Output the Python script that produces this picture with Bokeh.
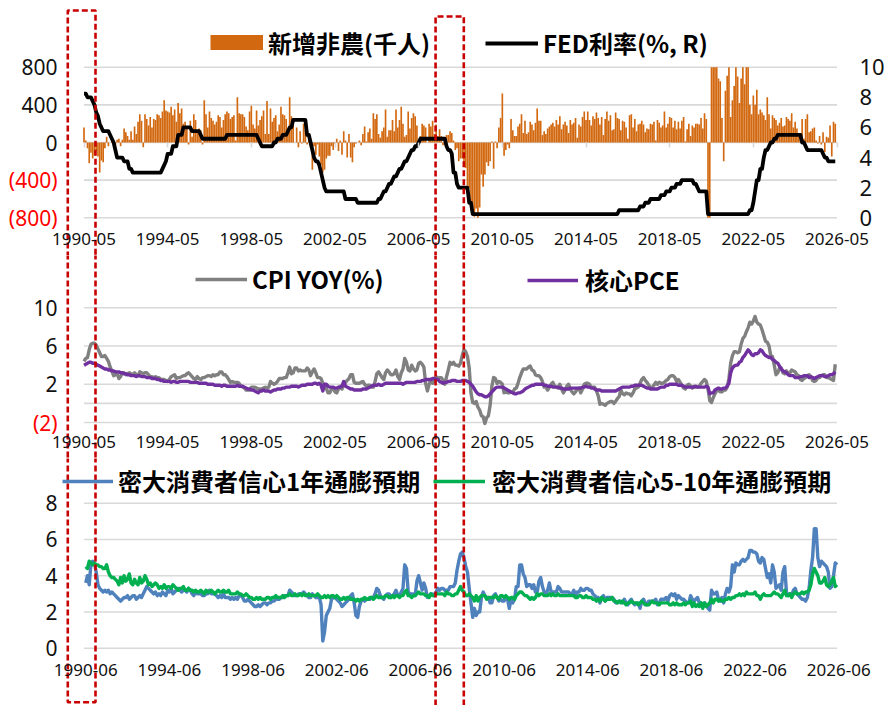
from bokeh.plotting import figure
from bokeh.models import Range1d, LinearAxis, FixedTicker, Legend, LegendItem
from bokeh.layouts import column
from bokeh.embed import file_html
from bokeh.resources import INLINE

# ---------------------------------------------------------------- data
# panels 1-2: monthly from 1990-05 ; panel 3: monthly from 1990-06
start_top = "1990-05"
start_bottom = "1990-06"

nfp = [  # 新增非農 (thousands), clipped at the chart's +/-800 bounds
    160, 20, -60, -220, -110, -170, -140, -90,
    -150, -320, -190, -210, -60, 60, -40, 0, 40, 20, -40, 30,
    40, -40, 30, 150, 110, 70, 30, 120, 30, 170, 90, 220,
    300, 230, -50, 300, 250, 180, 270, 160, 250, 240, 300, 290,
    260, 330, 450, 340, 330, 320, 380, 290, 350, 220, 420, 310,
    360, 200, 220, 150, -20, 230, 60, 300, 240, 110, 150, 130,
    -20, 450, 300, 160, 330, 260, 230, 190, 220, 290, 270, 160,
    240, 300, 330, 310, 250, 270, 290, 20, 480, 310, 300, 300,
    270, 170, 130, 330, 390, 190, 150, 340, 180, 240, 280, 340,
    90, 440, 90, 360, 220, 260, 290, 120, 190, 380, 300, 290,
    250, 110, 480, 280, 220, 0, 160, -50, 120, -10, 200, 130,
    -20, 60, -50, -290, -40, -130, -20, -150, -240, -320, -290, -170,
    -140, -140, -40, -80, -10, 40, -90, 20, -130, 120, 20, -160,
    90, -160, -210, -50, -10, 0, 20, -30, 90, 170, 10, 110,
    150, 40, 310, 250, 300, 90, 50, 120, 160, 350, 60, 130,
    130, 240, 120, 350, 160, 240, 380, 200, 60, 80, 330, 150,
    260, 310, 280, 180, 20, 70, 200, 180, 160, 0, 200, 170,
    230, 90, 190, 70, 140, 70, -30, -20, 80, 80, 120, 100,
    20, -80, -60, -200, -170, -170, -210, -270, -460, -480, -720, -700,
    -790, -700, -800, -690, -340, -470, -340, -210, -250, -200, 10, -280,
    10, -60, 160, 260, 520, -140, -80, -20, -60, 250, 130, 70,
    70, 170, 200, 300, 100, 230, 90, 110, 220, 190, 130, 210,
    360, 230, 230, 80, 120, 90, 150, 170, 190, 210, 170, 240,
    190, 280, 140, 190, 220, 180, 100, 240, 190, 210, 260, 50,
    190, 170, 270, 330, 240, 330, 240, 180, 280, 250, 320, 260,
    190, 270, 80, 250, 330, 230, 290, 130, 140, 320, 260, 250,
    130, 230, 220, 160, 40, 290, 300, 160, 250, 120, 190, 200,
    230, 190, 110, 150, 140, 200, 190, 220, 20, 240, 210, 160,
    180, 330, 160, 200, 270, 260, 160, 230, 140, 220, 150, 230,
    270, 10, 140, 200, 70, 180, 160, 200, 200, 190, 260, 150,
    310, 250, -800, -800, 800, 800, 800, 800, 680, 650, 260, -200,
    550, 710, 800, 270, 450, 600, 800, 700, 420, 680, 800, 620,
    800, 800, 400, 300, 500, 400, 560, 300, 350, 320, 290, 240,
    480, 300, 150, 290, 260, 240, 180, 210, 260, 170, 180, 270,
    250, 230, 310, 160, 220, 150, 100, 80, 250, 40, 250, 300,
    110, 120, 150, 160, 20, -10, 70, -20, 110, -100, 60, 50,
    180, -150, 220, 200,
]

fed = [  # FED 利率 (%, right axis)
    8.25, 8.25, 8.0, 8.0, 8.0, 7.75, 7.5, 7.0,
    6.75, 6.25, 6.0, 5.75, 5.75, 5.75, 5.75, 5.5, 5.25, 5.0, 4.5, 4.0,
    4.0, 4.0, 4.0, 3.75, 3.75, 3.75, 3.25, 3.25, 3.0, 3.0, 3.0, 3.0,
    3.0, 3.0, 3.0, 3.0, 3.0, 3.0, 3.0, 3.0, 3.0, 3.0, 3.0, 3.0,
    3.0, 3.25, 3.5, 3.75, 4.25, 4.25, 4.25, 4.75, 4.75, 4.75, 5.5, 5.5,
    5.5, 6.0, 6.0, 6.0, 6.0, 6.0, 5.75, 5.75, 5.75, 5.75, 5.75, 5.5,
    5.25, 5.25, 5.25, 5.25, 5.25, 5.25, 5.25, 5.25, 5.25, 5.25, 5.25, 5.25,
    5.25, 5.25, 5.5, 5.5, 5.5, 5.5, 5.5, 5.5, 5.5, 5.5, 5.5, 5.5,
    5.5, 5.5, 5.5, 5.5, 5.5, 5.5, 5.5, 5.5, 5.25, 5.0, 4.75, 4.75,
    4.75, 4.75, 4.75, 4.75, 4.75, 5.0, 5.0, 5.25, 5.25, 5.25, 5.5, 5.5,
    5.5, 5.75, 6.0, 6.0, 6.5, 6.5, 6.5, 6.5, 6.5, 6.5, 6.5, 6.5,
    5.5, 5.5, 5.0, 4.5, 4.0, 3.75, 3.75, 3.5, 3.0, 2.5, 2.0, 1.75,
    1.75, 1.75, 1.75, 1.75, 1.75, 1.75, 1.75, 1.75, 1.75, 1.75, 1.25, 1.25,
    1.25, 1.25, 1.25, 1.25, 1.25, 1.0, 1.0, 1.0, 1.0, 1.0, 1.0, 1.0,
    1.0, 1.0, 1.0, 1.0, 1.0, 1.25, 1.25, 1.5, 1.75, 1.75, 2.0, 2.25,
    2.25, 2.5, 2.75, 2.75, 3.0, 3.25, 3.25, 3.5, 3.75, 3.75, 4.0, 4.25,
    4.5, 4.5, 4.75, 4.75, 5.0, 5.25, 5.25, 5.25, 5.25, 5.25, 5.25, 5.25,
    5.25, 5.25, 5.25, 5.25, 5.25, 5.25, 5.25, 5.25, 4.75, 4.5, 4.5, 4.25,
    3.0, 3.0, 2.25, 2.0, 2.0, 2.0, 2.0, 2.0, 2.0, 1.0, 1.0, 0.25,
    0.25, 0.25, 0.25, 0.25, 0.25, 0.25, 0.25, 0.25, 0.25, 0.25, 0.25, 0.25,
    0.25, 0.25, 0.25, 0.25, 0.25, 0.25, 0.25, 0.25, 0.25, 0.25, 0.25, 0.25,
    0.25, 0.25, 0.25, 0.25, 0.25, 0.25, 0.25, 0.25, 0.25, 0.25, 0.25, 0.25,
    0.25, 0.25, 0.25, 0.25, 0.25, 0.25, 0.25, 0.25, 0.25, 0.25, 0.25, 0.25,
    0.25, 0.25, 0.25, 0.25, 0.25, 0.25, 0.25, 0.25, 0.25, 0.25, 0.25, 0.25,
    0.25, 0.25, 0.25, 0.25, 0.25, 0.25, 0.25, 0.25, 0.25, 0.25, 0.25, 0.25,
    0.25, 0.25, 0.25, 0.25, 0.25, 0.25, 0.25, 0.25, 0.25, 0.25, 0.25, 0.5,
    0.5, 0.5, 0.5, 0.5, 0.5, 0.5, 0.5, 0.5, 0.5, 0.5, 0.5, 0.75,
    0.75, 0.75, 1.0, 1.0, 1.0, 1.25, 1.25, 1.25, 1.25, 1.25, 1.25, 1.5,
    1.5, 1.5, 1.75, 1.75, 1.75, 2.0, 2.0, 2.0, 2.25, 2.25, 2.25, 2.5,
    2.5, 2.5, 2.5, 2.5, 2.5, 2.5, 2.25, 2.25, 2.0, 1.75, 1.75, 1.75,
    1.75, 1.75, 0.25, 0.25, 0.25, 0.25, 0.25, 0.25, 0.25, 0.25, 0.25, 0.25,
    0.25, 0.25, 0.25, 0.25, 0.25, 0.25, 0.25, 0.25, 0.25, 0.25, 0.25, 0.25,
    0.25, 0.25, 0.5, 0.5, 1.0, 1.75, 2.5, 2.5, 3.25, 3.25, 4.0, 4.5,
    4.5, 4.75, 5.0, 5.0, 5.25, 5.25, 5.5, 5.5, 5.5, 5.5, 5.5, 5.5,
    5.5, 5.5, 5.5, 5.5, 5.5, 5.5, 5.5, 5.5, 5.0, 5.0, 4.75, 4.5,
    4.5, 4.5, 4.5, 4.5, 4.5, 4.5, 4.5, 4.5, 4.25, 4.0, 4.0, 3.75,
    3.75, 3.75, 3.75, 3.75,
]

cpi = [  # CPI YOY (%)
    4.4, 4.7, 4.8, 5.6, 6.2, 6.3, 6.3, 6.1,
    5.7, 5.3, 4.9, 4.9, 5.0, 4.7, 4.4, 3.8, 3.4, 2.9, 3.0, 3.1,
    2.6, 2.8, 3.2, 3.2, 3.0, 3.1, 3.2, 3.1, 3.0, 3.2, 3.0, 2.9,
    3.3, 3.2, 3.1, 3.2, 3.2, 3.0, 2.8, 2.8, 2.7, 2.8, 2.7, 2.7,
    2.5, 2.5, 2.5, 2.4, 2.3, 2.5, 2.8, 2.9, 3.0, 2.6, 2.7, 2.7,
    2.8, 2.9, 2.9, 3.1, 3.2, 3.0, 2.8, 2.6, 2.5, 2.8, 2.6, 2.5,
    2.7, 2.7, 2.8, 2.9, 2.9, 2.8, 3.0, 2.9, 3.0, 3.0, 3.3, 3.3,
    3.0, 3.0, 2.8, 2.5, 2.2, 2.3, 2.2, 2.2, 2.2, 2.1, 1.8, 1.7,
    1.6, 1.4, 1.4, 1.4, 1.7, 1.7, 1.7, 1.6, 1.5, 1.5, 1.5, 1.6,
    1.7, 1.6, 1.7, 2.3, 2.1, 2.0, 2.1, 2.3, 2.6, 2.6, 2.6, 2.7,
    2.7, 3.2, 3.8, 3.1, 3.2, 3.7, 3.7, 3.4, 3.5, 3.4, 3.4, 3.4,
    3.7, 3.5, 2.9, 3.3, 3.6, 3.2, 2.7, 2.7, 2.6, 2.1, 1.9, 1.6,
    1.1, 1.1, 1.5, 1.6, 1.2, 1.1, 1.5, 1.8, 1.5, 2.0, 2.2, 2.4,
    2.6, 3.0, 3.0, 2.2, 2.1, 2.1, 2.1, 2.2, 2.3, 2.0, 1.8, 1.9,
    1.9, 1.7, 1.7, 2.3, 3.1, 3.3, 3.0, 2.7, 2.5, 3.2, 3.5, 3.3,
    3.0, 3.0, 3.1, 3.5, 2.8, 2.5, 3.2, 3.6, 4.7, 4.3, 3.5, 3.4,
    4.0, 3.6, 3.4, 3.5, 4.2, 4.3, 4.1, 3.8, 2.1, 1.3, 2.0, 2.5,
    2.1, 2.4, 2.8, 2.6, 2.7, 2.7, 2.4, 2.0, 2.8, 3.5, 4.3, 4.1,
    4.3, 4.0, 4.0, 3.9, 4.2, 5.0, 5.6, 5.4, 4.9, 3.7, 1.1, 0.1,
    0.0, 0.2, -0.4, -0.7, -1.3, -1.4, -2.1, -1.5, -1.3, -0.2, 1.8, 2.7,
    2.6, 2.1, 2.3, 2.2, 2.0, 1.1, 1.2, 1.1, 1.1, 1.2, 1.1, 1.5,
    1.6, 2.1, 2.7, 3.2, 3.6, 3.6, 3.6, 3.8, 3.9, 3.5, 3.4, 3.0,
    2.9, 2.9, 2.7, 2.3, 1.7, 1.7, 1.4, 1.7, 2.0, 2.2, 1.8, 1.7,
    1.6, 2.0, 1.5, 1.1, 1.4, 1.8, 2.0, 1.5, 1.2, 1.0, 1.2, 1.5,
    1.6, 1.1, 1.5, 2.0, 2.1, 2.1, 2.0, 1.7, 1.7, 1.7, 1.3, 0.8,
    -0.1, 0.0, -0.1, -0.2, 0.0, 0.1, 0.2, 0.2, 0.0, 0.2, 0.5, 0.7,
    1.4, 1.0, 0.9, 1.1, 1.0, 1.0, 0.8, 1.1, 1.5, 1.6, 1.7, 2.1,
    2.5, 2.7, 2.4, 2.2, 1.9, 1.6, 1.7, 1.9, 2.2, 2.0, 2.2, 2.1,
    2.1, 2.2, 2.4, 2.5, 2.8, 2.9, 2.9, 2.7, 2.3, 2.5, 2.2, 1.9,
    1.6, 1.5, 1.9, 2.0, 1.8, 1.6, 1.8, 1.7, 1.7, 1.8, 2.1, 2.3,
    2.5, 2.3, 1.5, 0.3, 0.1, 0.6, 1.0, 1.3, 1.4, 1.2, 1.2, 1.4,
    1.4, 1.7, 2.6, 4.2, 5.0, 5.4, 5.4, 5.3, 5.4, 6.2, 6.8, 7.0,
    7.5, 7.9, 8.5, 8.3, 8.6, 9.1, 8.5, 8.3, 8.2, 7.7, 7.1, 6.5,
    6.4, 6.0, 5.0, 4.9, 4.0, 3.0, 3.2, 3.7, 3.7, 3.2, 3.1, 3.4,
    3.1, 3.2, 3.5, 3.4, 3.3, 3.0, 2.9, 2.5, 2.4, 2.6, 2.7, 2.9,
    3.0, 2.8, 2.4, 2.3, 2.4, 2.7, 2.7, 2.9, 3.0, 3.0, 2.7, 2.7,
    2.6, 2.5, 2.4, 4.1,
]

core_pce = [  # 核心PCE (%)
    4.0, 4.1, 4.2, 4.3, 4.3, 4.2, 4.2, 4.1,
    4.0, 3.9, 3.8, 3.7, 3.6, 3.6, 3.5, 3.5, 3.4, 3.4, 3.3, 3.3,
    3.3, 3.2, 3.2, 3.1, 3.1, 3.0, 3.0, 2.9, 2.9, 2.9, 2.8, 2.9,
    2.9, 2.8, 2.8, 2.8, 2.7, 2.7, 2.7, 2.6, 2.6, 2.6, 2.5, 2.5,
    2.4, 2.4, 2.3, 2.3, 2.3, 2.3, 2.2, 2.3, 2.3, 2.2, 2.2, 2.3,
    2.3, 2.3, 2.3, 2.3, 2.3, 2.2, 2.2, 2.2, 2.2, 2.2, 2.1, 2.1,
    2.1, 2.1, 2.1, 2.0, 2.0, 2.0, 2.0, 1.9, 1.9, 1.9, 1.9, 1.8,
    1.9, 1.9, 1.8, 1.8, 1.8, 1.8, 1.8, 1.8, 1.9, 1.8, 1.8, 1.8,
    1.7, 1.6, 1.5, 1.5, 1.4, 1.4, 1.3, 1.2, 1.1, 1.3, 1.3, 1.4,
    1.3, 1.3, 1.3, 1.2, 1.3, 1.4, 1.4, 1.5, 1.5, 1.5, 1.6, 1.6,
    1.7, 1.7, 1.7, 1.8, 1.8, 1.8, 1.8, 1.7, 1.8, 1.9, 1.9, 1.9,
    2.0, 2.0, 2.0, 2.0, 2.1, 2.1, 2.0, 2.1, 1.9, 1.3, 2.0, 2.0,
    1.8, 1.7, 1.7, 1.7, 1.6, 1.6, 1.7, 1.7, 1.8, 2.3, 1.8, 1.7,
    1.6, 1.5, 1.5, 1.4, 1.4, 1.4, 1.4, 1.4, 1.5, 1.5, 1.5, 1.6,
    1.7, 1.8, 1.9, 1.9, 1.9, 2.0, 1.9, 1.9, 2.0, 2.1, 2.1, 2.1,
    2.1, 2.1, 2.1, 2.1, 2.1, 2.1, 2.1, 2.0, 2.1, 2.2, 2.2, 2.2,
    2.2, 2.2, 2.2, 2.3, 2.3, 2.3, 2.4, 2.4, 2.5, 2.5, 2.5, 2.5,
    2.6, 2.6, 2.5, 2.5, 2.3, 2.2, 2.1, 2.2, 2.2, 2.3, 2.3, 2.4,
    2.4, 2.4, 2.3, 2.3, 2.3, 2.4, 2.4, 2.4, 2.3, 2.2, 2.0, 1.8,
    1.5, 1.2, 1.0, 0.9, 0.9, 0.8, 0.7, 0.7, 0.8, 1.0, 1.2, 1.4,
    1.6, 1.7, 1.7, 1.7, 1.7, 1.6, 1.5, 1.4, 1.3, 1.2, 1.1, 1.0,
    1.0, 1.1, 1.1, 1.2, 1.3, 1.5, 1.6, 1.7, 1.8, 1.9, 1.9, 2.0,
    2.0, 2.0, 2.0, 2.0, 1.9, 1.9, 1.8, 1.8, 1.8, 1.7, 1.7, 1.7,
    1.7, 1.6, 1.6, 1.5, 1.5, 1.5, 1.5, 1.6, 1.6, 1.6, 1.6, 1.6,
    1.6, 1.6, 1.7, 1.7, 1.8, 1.7, 1.7, 1.6, 1.6, 1.5, 1.4, 1.4,
    1.4, 1.3, 1.3, 1.3, 1.3, 1.3, 1.3, 1.3, 1.3, 1.3, 1.4, 1.5,
    1.6, 1.7, 1.7, 1.7, 1.7, 1.7, 1.8, 1.8, 1.9, 1.9, 1.9, 1.9,
    1.9, 1.8, 1.7, 1.6, 1.6, 1.5, 1.5, 1.5, 1.5, 1.5, 1.6, 1.7,
    1.7, 1.7, 1.9, 1.9, 2.0, 2.0, 2.0, 2.0, 2.0, 1.9, 1.9, 1.9,
    1.8, 1.7, 1.7, 1.7, 1.7, 1.7, 1.7, 1.8, 1.7, 1.7, 1.7, 1.7,
    1.7, 1.8, 1.7, 1.0, 1.1, 1.1, 1.4, 1.5, 1.6, 1.5, 1.5, 1.6,
    1.6, 1.8, 2.1, 3.2, 3.7, 3.9, 4.0, 4.0, 4.3, 4.4, 4.8, 5.0,
    5.3, 5.6, 5.4, 5.1, 5.0, 5.2, 5.2, 5.3, 5.6, 5.5, 5.2, 5.0,
    4.9, 4.8, 4.8, 4.6, 4.5, 4.3, 4.2, 3.9, 3.6, 3.4, 3.3, 3.2,
    3.0, 2.9, 2.9, 2.9, 2.7, 2.7, 2.7, 2.8, 2.8, 2.9, 2.9, 2.9,
    2.7, 2.8, 2.7, 2.6, 2.7, 2.8, 2.9, 2.9, 2.9, 2.8, 2.8, 2.9,
    3.0, 3.0, 3.1, 3.3,
]

mich_1y = [  # 密大消費者信心1年通膨預期 (%), from 1990-06
    3.6, 4.0, 3.5, 4.7, 4.8, 4.7, 4.2,
    3.5, 3.3, 3.2, 3.1, 3.2, 3.1, 3.2, 3.0, 3.1, 3.0, 2.9, 2.8,
    2.7, 2.6, 2.7, 2.8, 2.8, 2.9, 2.7, 2.8, 2.9, 2.9, 2.7, 2.8,
    2.9, 2.8, 3.0, 3.2, 3.4, 3.3, 3.2, 3.1, 3.0, 3.1, 2.9, 3.0,
    2.9, 3.1, 3.0, 2.9, 3.2, 3.1, 3.3, 3.0, 3.1, 3.2, 3.3, 3.2,
    3.1, 3.2, 3.2, 3.1, 3.3, 3.2, 3.0, 2.9, 3.1, 3.0, 3.0, 3.0,
    2.9, 2.9, 3.0, 3.0, 3.2, 3.0, 3.0, 3.0, 2.9, 2.8, 2.9, 2.8,
    3.0, 2.8, 2.8, 2.8, 2.7, 2.8, 2.7, 2.8, 2.7, 2.9, 2.9, 2.8,
    2.6, 2.6, 2.7, 2.6, 2.5, 2.4, 2.3, 2.3, 2.4, 2.3, 2.4, 2.5,
    2.5, 2.4, 2.5, 2.5, 2.6, 2.6, 2.7, 2.7, 2.7, 2.8, 2.8, 2.9,
    2.9, 2.9, 3.2, 3.1, 3.0, 2.9, 2.9, 3.0, 3.0, 3.0, 3.1, 3.0,
    2.9, 2.8, 2.8, 3.0, 2.9, 2.8, 2.8, 2.8, 2.4, 0.4, 0.9, 1.8,
    2.0, 2.2, 2.7, 2.8, 2.8, 2.7, 2.6, 2.5, 2.3, 2.4, 2.5, 2.6,
    2.7, 2.9, 3.0, 2.5, 1.8, 1.7, 2.3, 2.6, 2.7, 2.6, 2.7, 2.7,
    2.7, 2.8, 2.8, 3.0, 3.3, 3.2, 2.9, 2.8, 2.7, 2.9, 3.0, 3.0,
    2.8, 2.9, 3.0, 3.2, 2.9, 2.9, 3.1, 3.3, 4.6, 4.4, 3.1, 3.0,
    3.0, 3.0, 2.9, 3.7, 4.0, 3.6, 3.2, 3.6, 3.3, 2.8, 2.9, 3.0,
    3.0, 2.9, 3.1, 3.3, 3.2, 3.3, 3.3, 3.2, 3.2, 3.2, 3.4, 3.4,
    3.4, 3.6, 4.3, 4.8, 5.2, 5.3, 5.0, 4.5, 4.2, 3.3, 2.5, 1.7,
    2.2, 1.8, 2.0, 2.0, 2.8, 3.1, 2.9, 2.8, 2.8, 2.5, 2.5, 2.9,
    3.0, 2.8, 2.6, 2.7, 2.6, 2.6, 2.8, 2.7, 2.2, 2.7, 2.5, 2.7,
    3.4, 3.4, 4.6, 4.6, 4.1, 3.9, 3.4, 3.5, 3.5, 3.3, 3.5, 3.1,
    3.1, 3.7, 3.9, 3.4, 3.1, 3.0, 3.2, 3.6, 3.1, 3.1, 3.1, 3.1,
    3.4, 3.3, 3.1, 3.1, 3.1, 3.1, 3.1, 3.0, 3.0, 3.2, 2.9, 3.1,
    3.1, 3.3, 3.2, 3.2, 3.3, 3.3, 3.2, 3.2, 3.0, 2.9, 2.8, 2.8,
    2.5, 2.8, 2.9, 2.6, 2.8, 2.8, 2.8, 2.8, 2.7, 2.5, 2.5, 2.6,
    2.6, 2.5, 2.7, 2.5, 2.4, 2.6, 2.7, 2.5, 2.4, 2.5, 2.5, 2.2,
    2.6, 2.7, 2.5, 2.4, 2.6, 2.6, 2.6, 2.6, 2.7, 2.4, 2.5, 2.7,
    2.7, 2.7, 2.8, 2.6, 2.9, 3.0, 2.9, 3.0, 2.7, 2.9, 2.8, 2.7,
    2.7, 2.6, 2.5, 2.5, 2.9, 2.7, 2.6, 2.7, 2.8, 2.5, 2.5, 2.3,
    2.5, 2.4, 2.2, 2.1, 3.2, 3.0, 3.0, 3.1, 2.7, 2.6, 2.8, 2.5,
    3.0, 3.3, 3.1, 3.4, 4.6, 4.2, 4.7, 4.6, 4.6, 4.8, 4.9, 4.8,
    4.9, 5.0, 5.4, 5.4, 5.3, 5.3, 5.2, 4.8, 4.7, 5.0, 4.9, 4.4,
    3.9, 4.1, 3.6, 4.6, 4.2, 3.3, 3.4, 3.5, 3.2, 4.2, 4.5, 3.1,
    2.9, 3.0, 2.9, 3.2, 3.3, 3.0, 2.9, 2.8, 2.7, 2.7, 2.6, 2.8,
    3.3, 4.3, 5.0, 6.6, 6.6, 5.0, 4.5, 4.8, 4.7, 4.6, 4.5, 4.2,
    3.3, 3.4, 4.0, 4.7, 4.6,
]

mich_5_10y = [  # 密大消費者信心5-10年通膨預期 (%), from 1990-06
    4.5, 4.4, 4.8, 4.7, 4.6, 4.7, 4.6,
    4.6, 4.5, 4.5, 4.4, 4.4, 4.6, 4.2, 4.0, 3.9, 3.9, 3.8, 3.7,
    3.5, 3.9, 3.6, 4.0, 3.7, 3.8, 4.1, 3.6, 3.5, 3.8, 3.6, 3.5,
    3.9, 3.6, 3.7, 4.0, 3.8, 3.5, 3.6, 3.4, 3.5, 3.6, 3.5, 3.3,
    3.4, 3.3, 3.5, 3.3, 3.4, 3.4, 3.3, 3.5, 3.4, 3.3, 3.2, 3.3,
    3.3, 3.4, 3.2, 3.2, 3.3, 3.2, 3.2, 3.1, 3.2, 3.1, 3.1, 3.2,
    3.1, 3.0, 3.2, 3.1, 3.1, 3.2, 3.1, 3.0, 3.1, 3.2, 3.1, 3.1,
    3.2, 3.1, 3.1, 3.2, 3.0, 3.0, 3.0, 3.0, 3.1, 3.0, 3.0, 2.9,
    2.9, 3.0, 2.9, 2.8, 2.8, 2.7, 2.7, 2.8, 2.7, 2.8, 2.7, 2.7,
    2.7, 2.8, 2.8, 2.7, 2.8, 2.8, 2.9, 2.8, 2.8, 2.8, 2.9, 2.8,
    2.9, 2.9, 3.0, 2.9, 2.9, 3.0, 2.9, 2.9, 3.0, 2.9, 3.0, 2.9,
    2.9, 3.0, 2.9, 2.9, 2.9, 2.9, 3.0, 2.9, 2.8, 2.8, 2.9, 2.8,
    2.9, 2.8, 2.9, 2.9, 2.8, 2.9, 2.8, 2.7, 2.7, 2.8, 2.7, 2.8,
    2.8, 2.7, 2.7, 2.7, 2.6, 2.7, 2.6, 2.7, 2.7, 2.8, 2.7, 2.7,
    2.8, 2.8, 2.7, 2.8, 2.9, 2.8, 2.8, 2.8, 2.8, 2.9, 2.9, 2.8,
    2.8, 2.9, 2.8, 2.9, 2.9, 2.8, 2.9, 2.9, 3.1, 3.2, 2.9, 2.9,
    2.8, 2.9, 2.9, 3.0, 3.1, 3.0, 3.0, 3.0, 2.9, 2.9, 2.8, 3.0,
    2.9, 2.9, 3.0, 3.0, 3.0, 3.0, 3.0, 2.9, 3.1, 3.0, 3.0, 2.9,
    2.9, 3.0, 3.0, 3.2, 3.4, 3.2, 3.1, 2.9, 2.9, 3.0, 2.9, 2.8,
    2.6, 2.9, 2.6, 2.8, 2.9, 2.9, 2.9, 2.7, 2.8, 2.8, 2.8, 2.8,
    2.9, 2.8, 2.7, 2.9, 2.9, 2.8, 2.9, 2.8, 2.7, 2.8, 2.8, 2.7,
    2.9, 3.0, 3.1, 3.1, 3.0, 2.9, 2.9, 2.8, 2.7, 2.8, 2.7, 2.8,
    3.0, 2.9, 3.0, 3.0, 2.9, 2.9, 2.9, 3.0, 2.9, 3.0, 2.9, 2.9,
    3.0, 2.9, 2.9, 2.9, 2.9, 2.9, 2.9, 2.9, 2.9, 2.9, 2.8, 2.8,
    2.9, 2.9, 2.8, 2.8, 2.9, 2.8, 2.8, 2.8, 2.7, 2.7, 2.6, 2.7,
    2.6, 2.8, 2.7, 2.6, 2.7, 2.7, 2.7, 2.8, 2.6, 2.6, 2.5, 2.6,
    2.5, 2.6, 2.5, 2.4, 2.5, 2.5, 2.6, 2.5, 2.5, 2.5, 2.4, 2.5,
    2.6, 2.5, 2.4, 2.4, 2.4, 2.5, 2.6, 2.5, 2.5, 2.5, 2.4, 2.5,
    2.5, 2.5, 2.5, 2.5, 2.4, 2.4, 2.5, 2.4, 2.5, 2.4, 2.4, 2.4,
    2.5, 2.4, 2.5, 2.5, 2.6, 2.3, 2.5, 2.3, 2.4, 2.3, 2.5, 2.2,
    2.5, 2.3, 2.4, 2.5, 2.7, 2.5, 2.7, 2.7, 2.6, 2.7, 2.6, 2.6,
    2.7, 2.7, 2.8, 2.7, 2.8, 2.8, 2.9, 2.9, 3.0, 2.9, 3.0, 2.9,
    3.1, 3.0, 3.0, 3.0, 3.0, 3.1, 2.9, 2.9, 2.7, 2.9, 3.0, 2.9,
    2.9, 2.9, 2.9, 3.0, 3.1, 3.0, 3.0, 2.9, 2.8, 3.0, 3.2, 2.9,
    2.9, 3.0, 2.8, 3.0, 3.1, 3.0, 3.0, 3.0, 3.1, 3.0, 3.1, 3.1,
    3.2, 3.5, 4.1, 4.4, 4.2, 4.0, 3.6, 3.6, 3.7, 3.9, 3.5, 3.4,
    3.5, 3.7, 3.9, 3.4, 3.5,
]

x_labels_top = ["1990-05", "1994-05", "1998-05", "2002-05", "2006-05",
                "2010-05", "2014-05", "2018-05", "2022-05", "2026-05"]
x_labels_bottom = ["1990-06", "1994-06", "1998-06", "2002-06", "2006-06",
                   "2010-06", "2014-06", "2018-06", "2022-06", "2026-06"]
nfp_ticks = [-800, -400, 0, 400, 800]
nfp_tick_labels = ["(800)", "(400)", "0", "400", "800"]
fed_ticks = [0, 2, 4, 6, 8, 10]
infl_ticks = [-2, 2, 6, 10]
infl_tick_labels = ["(2)", "2", "6", "10"]
infl_grid = [-2, 0, 2, 6, 10]
mich_ticks = [0, 2, 4, 6, 8]
# highlighted periods (month index, 0 = 1990-01): ~1989-07 .. 1990-11 and ~2007-02 .. 2008-06
highlight_periods = [(-5.3, 10.6), (205.7, 221.9)]

# ---------------------------------------------------------------- style
ORANGE = "#D2680F"
RED = "#C80000"
GRID = "#D9D9D9"
F_TICK = "Noto Sans"
F_LEG = "Noto Sans CJK TC"


def mi(s):
    y, m = s.split("-")
    return (int(y) - 1990) * 12 + int(m) - 1


# page-pixel layout (the frame of every panel covers its whole canvas)
FL, FR = 0, 886
XA_PX, XB_PX = 83.5, 836.5
MA, MB = mi(x_labels_top[0]), mi(x_labels_top[-1])
kx = (XB_PX - XA_PX) / (MB - MA)


def xv(px):
    return MA + (px - XA_PX) / kx


XR0, XR1 = xv(FL), xv(FR)
Y_AXIS_L = xv(60)     # left value axes sit here
Y_AXIS_R = xv(854)    # right value axis sits here


def mapper(va, pa, vb, pb):
    k = (pb - pa) / (vb - va)
    return lambda py: va + (py - pa) / k


def make_panel(top, bottom, to_v):
    p = figure(frame_width=FR - FL, frame_height=bottom - top,
               x_range=Range1d(XR0, XR1), y_range=Range1d(to_v(bottom), to_v(top)),
               x_axis_location=None, y_axis_location=None,
               min_border_left=0, min_border_right=0,
               min_border_top=0, min_border_bottom=0,
               toolbar_location=None, output_backend="svg",
               outline_line_color=None, background_fill_color="white",
               border_fill_color="white")
    p.grid.visible = False
    return p


def grid(p, values, y_range_name="default"):
    p.segment(x0=[MA] * len(values), x1=[MB] * len(values), y0=values, y1=values,
              line_color=GRID, line_width=1.6, y_range_name=y_range_name)


def y_axis(p, ticks, labels, color, side="left", y_range_name="default", size="21px"):
    ax = LinearAxis(y_range_name=y_range_name, ticker=FixedTicker(ticks=ticks),
                    fixed_location=Y_AXIS_L if side == "left" else Y_AXIS_R,
                    major_label_standoff=3 if side == "left" else 5,
                    major_label_overrides={t: l for t, l in zip(ticks, labels)},
                    axis_line_color=None, major_tick_line_color=None, minor_tick_line_color=None,
                    major_tick_out=0, major_tick_in=0, minor_tick_out=0, minor_tick_in=0,
                    major_label_text_font=F_TICK, major_label_text_font_size=size,
                    major_label_text_color=color)
    p.add_layout(ax, side)


def x_axis(p, ticks, labels, loc):
    ax = LinearAxis(ticker=FixedTicker(ticks=ticks), fixed_location=loc,
                    major_label_overrides={t: l for t, l in zip(ticks, labels)},
                    axis_line_color=None, major_tick_line_color=None, minor_tick_line_color=None,
                    major_tick_out=0, major_tick_in=0, minor_tick_out=0, minor_tick_in=0,
                    major_label_standoff=2, major_label_text_font=F_TICK,
                    major_label_text_font_size="17px", major_label_text_color="#111111")
    p.add_layout(ax, "below")


def legend(p, renderer, text, g_left, g_w, cy, t_left, frame_bottom):
    H = 34
    leg = Legend(items=[LegendItem(label=text, renderers=[renderer])],
                 location=(g_left - FL, frame_bottom - cy - H / 2),
                 glyph_width=g_w, glyph_height=H, label_height=H,
                 label_standoff=int(t_left - g_left - g_w), padding=0, margin=0, spacing=0,
                 border_line_color=None, background_fill_alpha=0,
                 label_text_font=F_LEG, label_text_font_size="24px",
                 label_text_color="#000000", label_text_font_style="bold")
    p.add_layout(leg)


def dashed(p, xs, ys):
    p.line(xs, ys, line_color=RED, line_width=2.6, line_dash="6 3")


xt_top = [mi(s) for s in x_labels_top]
xt_bot = [mi(s) for s in x_labels_bottom]
x_top = [mi(start_top) + i for i in range(len(nfp))]
x_cpi = [mi(start_top) + i for i in range(len(cpi))]
x_bot = [mi(start_bottom) + i for i in range(len(mich_1y))]
(h0, h1), (h2, h3) = highlight_periods

# ---------------------------------------------------------------- panel 1
T1, B1 = 0, 255
v1 = mapper(800, 66.7, -800, 217.3)
f1 = mapper(10, 66.7, 0, 217.3)
p1 = make_panel(T1, B1, v1)
p1.extra_y_ranges = {"fed": Range1d(f1(B1), f1(T1))}
grid(p1, nfp_ticks)
zero_ax = LinearAxis(ticker=FixedTicker(ticks=xt_top), fixed_location=0,
                     axis_line_color=None, major_tick_line_color=GRID, major_tick_line_width=1.6,
                     major_tick_out=5, major_tick_in=0, minor_tick_line_color=None,
                     major_label_text_color=None)
p1.add_layout(zero_ax, "below")
bars = p1.vbar(x=x_top, top=nfp, bottom=0, width=0.95, fill_color=ORANGE, line_color=None)
fed_r = p1.line(x_top[:len(fed)], fed, y_range_name="fed", line_color="black",
                line_width=3.8, line_join="round")
y_axis(p1, nfp_ticks[:2], nfp_tick_labels[:2], "#FF0000")
y_axis(p1, nfp_ticks[2:], nfp_tick_labels[2:], "#111111")
y_axis(p1, fed_ticks, [str(t) for t in fed_ticks], "#111111", side="right",
       y_range_name="fed", size="22px")
x_axis(p1, xt_top, x_labels_top, v1(230))
# legend swatch for the bars (a thick line, drawn outside the visible x range)
proxy = p1.line(x=[XR0 - 60, XR0 - 50], y=[0, 0], line_color=ORANGE, line_width=15)
legend(p1, proxy, "新增非農(千人)", 210, 53, 42.5, 268, B1)
legend(p1, fed_r, "FED利率(%, R)", 485, 53, 43, 543, B1)
dashed(p1, [h0, h0, h1, h1], [v1(B1 + 20), v1(10), v1(10), v1(B1 + 20)])
dashed(p1, [h2, h2, h3, h3], [v1(B1 + 20), v1(16), v1(16), v1(B1 + 20)])

# ---------------------------------------------------------------- panel 2
T2, B2 = 255, 458
v2 = mapper(10, 307.3, -2, 422.0)
p2 = make_panel(T2, B2, v2)
grid(p2, infl_grid)
cpi_r = p2.line(x_cpi, cpi, line_color="#808080", line_width=3.4, line_join="round")
pce_r = p2.line(x_cpi[:len(core_pce)], core_pce, line_color="#7030A0", line_width=3.4,
                line_join="round")
y_axis(p2, infl_ticks[:1], infl_tick_labels[:1], "#FF0000")
y_axis(p2, infl_ticks[1:], infl_tick_labels[1:], "#111111")
x_axis(p2, xt_top, x_labels_top, v2(433))
legend(p2, cpi_r, "CPI YOY(%)", 195, 52, 279.3, 252, B2)
legend(p2, pce_r, "核心PCE", 527, 51, 280, 585, B2)
for hx in (h0, h1, h2, h3):
    dashed(p2, [hx, hx], [v2(T2 - 20), v2(B2 + 20)])

# ---------------------------------------------------------------- panel 3
T3, B3 = 458, 705
v3 = mapper(8, 502.7, 0, 647.7)
p3 = make_panel(T3, B3, v3)
grid(p3, mich_ticks)
m1_r = p3.line(x_bot, mich_1y, line_color="#4F81BD", line_width=3.4, line_join="round")
m5_r = p3.line(x_bot[:len(mich_5_10y)], mich_5_10y, line_color="#00B050", line_width=3.4,
               line_join="round")
y_axis(p3, mich_ticks, [str(t) for t in mich_ticks], "#111111")
x_axis(p3, xt_bot, x_labels_bottom, v3(661))
legend(p3, m1_r, "密大消費者信心1年通膨預期", 62, 51, 481, 118, B3)
legend(p3, m5_r, "密大消費者信心5-10年通膨預期", 433, 52, 481, 492, B3)
dashed(p3, [h0, h0, h1, h1], [v3(T3 - 20), v3(701.7), v3(701.7), v3(T3 - 20)])
for hx in (h2, h3):
    dashed(p3, [hx, hx], [v3(T3 - 20), v3(B3 + 20)])

layout = column(p1, p2, p3, spacing=0)
open("out.html", "w").write(file_html(layout, INLINE))
